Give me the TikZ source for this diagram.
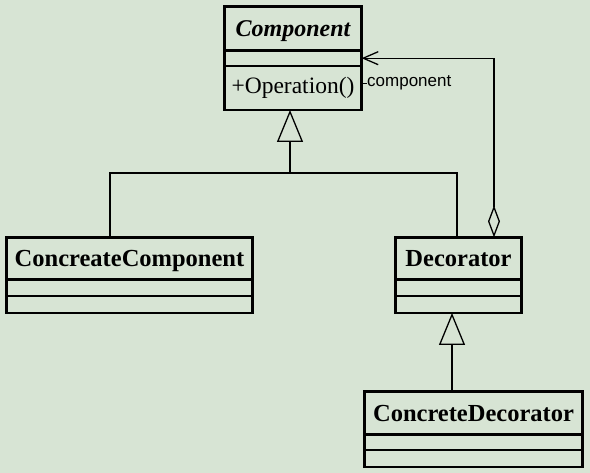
\documentclass[tikz,border=0pt]{standalone}
\usepackage{fontspec}
\setmainfont{Liberation Serif}
\newfontfamily\rolefont{Liberation Sans}
\usetikzlibrary{arrows.meta,positioning}
\definecolor{bgGreen}{RGB}{215,228,212}

\tikzset{
  compart/.style={draw, line width=1.2pt, inner sep=0pt, minimum width=#1},
  classtitle/.style={compart=#1, text height=16.5pt, text depth=0pt, font=\fontsize{24.5}{26}\selectfont\bfseries},
  outline/.style={line width=2pt},
  link/.style={line width=1.3pt},
  gen/.style={link, -{Triangle[open,length=32pt,width=26pt]}},
  aggr/.style={link, {Diamond[open,length=32pt,width=12pt]}-{Straight Barb[length=15pt,width=13pt]}}
}

\begin{document}
\begin{tikzpicture}[x=1pt,y=-1pt]
            % background
            \fill[bgGreen] (0,0) rectangle (590,473);
            \useasboundingbox (0,0) rectangle (590,473);
            % Component class
            \node[classtitle=136pt, minimum height=43pt, font=\fontsize{24}{26}\selectfont\bfseries\itshape] (comptitle) at (293,28.5) {Component};
            \node[compart=136pt, minimum height=14pt, below=0pt of comptitle] (compattr) {};
            \node[compart=136pt, minimum height=43pt, below=0pt of compattr, font=\fontsize{23.5}{25}\selectfont] (compops) {+Operation()};
            \draw[outline] (comptitle.north west) rectangle (compops.south east);
            % ConcreateComponent class
            \node[classtitle=245pt, minimum height=41pt] (cctitle) at (129.5,258.5) {ConcreateComponent};
            \node[compart=245pt, minimum height=15pt, below=0pt of cctitle] (ccattr) {};
            \node[compart=245pt, minimum height=16pt, below=0pt of ccattr] (ccops) {};
            \draw[outline] (cctitle.north west) rectangle (ccops.south east);
            % Decorator class
            \node[classtitle=125pt, minimum height=41pt] (dectitle) at (458.5,258.5) {Decorator};
            \node[compart=125pt, minimum height=15pt, below=0pt of dectitle] (decattr) {};
            \node[compart=125pt, minimum height=16pt, below=0pt of decattr] (decops) {};
            \draw[outline] (dectitle.north west) rectangle (decops.south east);
            % ConcreteDecorator class
            \node[classtitle=217pt, minimum height=42pt] (cdtitle) at (473.5,413) {ConcreteDecorator};
            \node[compart=217pt, minimum height=14pt, below=0pt of cdtitle] (cdattr) {};
            \node[compart=217pt, minimum height=16pt, below=0pt of cdattr] (cdops) {};
            \draw[outline] (cdtitle.north west) rectangle (cdops.south east);
            % generalisations
            \coordinate (joint) at (290,173);
            \draw[gen] ([xshift=-19.5pt]cctitle.north) |- (joint) -- ([xshift=-3pt]compops.south);
            \draw[link] ([xshift=-1.5pt]dectitle.north) |- (joint);
            \draw[gen] ([xshift=-21.5pt]cdtitle.north) -- ([xshift=-6.5pt]decops.south);
            % aggregation with role name
            \draw[aggr] ([xshift=35.5pt]dectitle.north) |- (compattr.east);
            \node[anchor=west, inner sep=0pt, font=\rolefont\fontsize{17}{19}\selectfont] (rolename) at (367,83) {component};
            \draw[line width=0.8pt] (compops.east |- rolename) -- (rolename.west);
          \end{tikzpicture}
\end{document}
